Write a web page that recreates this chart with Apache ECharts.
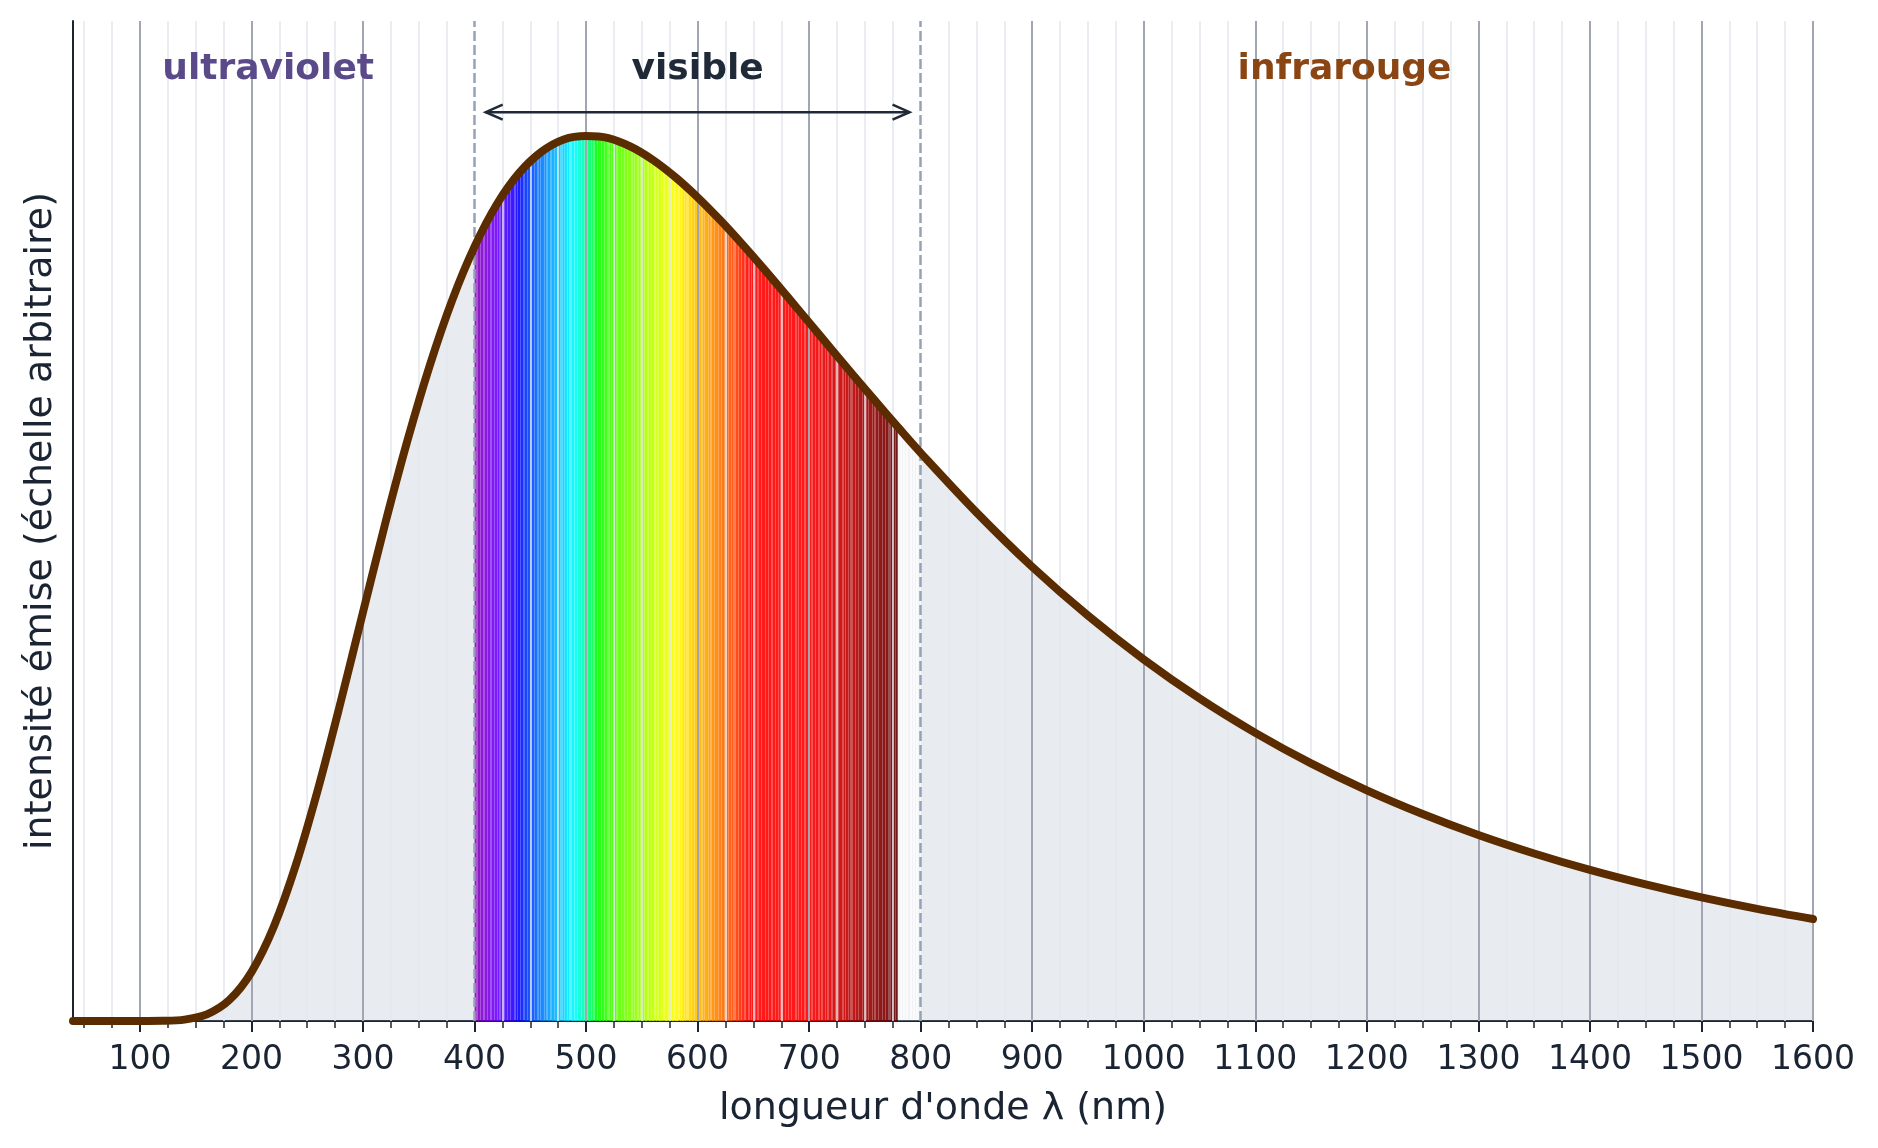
<!DOCTYPE html>
<html>
<head>
<meta charset="utf-8">
<script src="https://cdn.jsdelivr.net/npm/echarts@6/dist/echarts.min.js"></script>
<style>
  html, body { margin: 0; padding: 0; background: #ffffff; }
  #chart { width: 1878px; height: 1148px; }
</style>
</head>
<body>
<div id="chart"></div>
<script>
// ---- data (relative intensity, peak = 1) ----
const wavelengths = [40, 60, 80, 100, 120, 140, 160, 180, 200, 220, 240, 260, 280, 300, 320, 340, 360, 380,
  400, 420, 440, 460, 480, 500, 520, 540, 560, 580, 600, 620, 640, 660, 680, 700, 720, 740, 760, 780,
  800, 850, 900, 950, 1000, 1050, 1100, 1150, 1200, 1250, 1300, 1350, 1400, 1450, 1500, 1550, 1600];
const intensity = [0, 0, 0, 0.00001, 0.0002, 0.0016, 0.0075, 0.0235, 0.0553, 0.1065, 0.1771, 0.2636, 0.3606, 0.462, 0.5626, 0.6566, 0.7413, 0.8146,
  0.875, 0.9229, 0.9583, 0.9823, 0.9962, 1.0, 0.9977, 0.9881, 0.973, 0.9536, 0.9308, 0.9053, 0.8778, 0.849, 0.8193, 0.7893, 0.7591, 0.7291, 0.6995, 0.6704,
  0.642, 0.5748, 0.5132, 0.458, 0.4085, 0.3645, 0.3256, 0.2911, 0.2607, 0.2339, 0.2102, 0.1893, 0.1707, 0.1543, 0.1397, 0.1267, 0.1152];

const majorTicks = [100, 200, 300, 400, 500, 600, 700, 800, 900, 1000, 1100, 1200, 1300, 1400, 1500, 1600];
const minorTicks = [50, 75, 125, 150, 175, 225, 250, 275, 325, 350, 375, 425, 450, 475, 525, 550, 575,
  625, 650, 675, 725, 750, 775, 825, 850, 875, 925, 950, 975, 1025, 1050, 1075, 1125, 1150, 1175,
  1225, 1250, 1275, 1325, 1350, 1375, 1425, 1450, 1475, 1525, 1550, 1575];
const majorGrid = [100, 200, 300, 500, 600, 700, 900, 1000, 1100, 1200, 1300, 1400, 1500, 1600];
const regionBounds = [400, 800];
const regionLabels = ['ultraviolet', 'visible', 'infrarouge'];
const regionLabelX = [215, 600, 1180];
const regionColors = ['#5a4a8a', '#1f2937', '#8b4513'];
const arrowEnds = [410, 790];
const arrowLevel = 1.027;
const labelLevel = 1.0745;
const spectrumEnd = 780;
const X_MIN = 40, X_MAX = 1600, Y_MAX = 1.13;
const SMOOTH = 0.33;

const pts = wavelengths.map((w, i) => [w, intensity[i]]);
const uvPts = pts.filter(p => p[0] <= regionBounds[0]);
const visPts = pts.filter(p => p[0] >= regionBounds[0] && p[0] <= regionBounds[1]);
const irPts = pts.filter(p => p[0] >= regionBounds[1]);

const INK = '#1b2433';
const FONT = '"DejaVu Sans", "Noto Sans", sans-serif';

function specRGB(l) {
  let r, g, b;
  if (l < 440) { r = -(l - 440) / 60; g = 0; b = 1; }
  else if (l < 490) { r = 0; g = (l - 440) / 50; b = 1; }
  else if (l < 510) { r = 0; g = 1; b = -(l - 510) / 20; }
  else if (l < 580) { r = (l - 510) / 70; g = 1; b = 0; }
  else if (l < 645) { r = 1; g = -(l - 645) / 65; b = 0; }
  else { r = 1; g = 0; b = 0; }
  let f = l < 420 ? 0.3 + 0.7 * (l - 380) / 40 : (l > 700 ? 0.3 + 0.7 * (780 - l) / 80 : 1);
  return [r, g, b].map(c => c > 0 ? Math.round(255 * Math.pow(c * f, 0.8)) : 0);
}

function spectrumStops() {
  const stops = [];
  const span = regionBounds[1] - regionBounds[0];
  for (let l = regionBounds[0]; l < regionBounds[1]; l++) {
    let col;
    if (l < spectrumEnd) {
      const [r, g, b] = specRGB(l + 0.5);
      const light = (l % 3 === 0) || (l % 7 === 2);
      const a = light ? 0.68 : 0.9;
      col = 'rgba(' + r + ',' + g + ',' + b + ',' + a + ')';
    } else {
      col = (l % 3 === 0) ? 'rgba(215,220,228,0.35)' : 'rgba(235,238,242,0.25)';
    }
    stops.push({ offset: (l - regionBounds[0]) / span, color: col });
    stops.push({ offset: (l + 1 - regionBounds[0]) / span, color: col });
  }
  return stops;
}

const gridLineData = []
  .concat(minorTicks.map(v => ({ xAxis: v, lineStyle: { color: '#e3e8ef', width: 1.5, type: 'solid' } })))
  .concat(majorGrid.map(v => ({ xAxis: v, lineStyle: { color: '#a0a7b3', width: 2, type: 'solid' } })));

const dashedData = regionBounds.map(v => ({ xAxis: v, lineStyle: { color: '#94a3b8', width: 2.5, type: [10, 4] } }));

const fillColor = 'rgba(148,163,184,0.22)';

const option = {
  animation: false,
  backgroundColor: '#ffffff',
  grid: { left: 73, right: 65, top: 21, bottom: 127, containLabel: false, outerBoundsMode: 'none' },
  xAxis: [
    {
      type: 'value', min: X_MIN, max: X_MAX, position: 'bottom',
      axisLine: { show: true, onZero: false, lineStyle: { color: INK, width: 2 } },
      axisTick: { show: true, customValues: majorTicks, length: 11, lineStyle: { color: INK, width: 2 } },
      axisLabel: { show: true, customValues: majorTicks, margin: 23, fontSize: 33, color: INK, fontFamily: FONT,
        formatter: v => String(v) },
      splitLine: { show: false },
      name: "longueur d'onde λ (nm)", nameLocation: 'middle', nameGap: 69,
      nameTextStyle: { fontSize: 38, color: INK, fontFamily: FONT }
    },
    {
      type: 'value', min: X_MIN, max: X_MAX, position: 'bottom',
      axisLine: { show: false },
      axisTick: { show: true, customValues: minorTicks, length: 7, lineStyle: { color: INK, width: 1.5 } },
      axisLabel: { show: false },
      splitLine: { show: false }
    }
  ],
  yAxis: {
    type: 'value', min: 0, max: Y_MAX,
    axisLine: { show: true, onZero: false, lineStyle: { color: INK, width: 2 } },
    axisTick: { show: false }, axisLabel: { show: false }, splitLine: { show: false },
    name: 'intensité émise (échelle arbitraire)', nameLocation: 'middle', nameGap: 13,
    nameTextStyle: { fontSize: 38, color: INK, fontFamily: FONT }
  },
  series: [
    {
      id: 'gridlines', type: 'line', xAxisIndex: 0, yAxisIndex: 0, z: 1,
      data: [[X_MIN, 0]], symbol: 'none', lineStyle: { width: 0 }, silent: true,
      markLine: { silent: true, symbol: ['none', 'none'], label: { show: false }, animation: false, data: gridLineData }
    },
    {
      id: 'uv', type: 'line', xAxisIndex: 0, yAxisIndex: 0, z: 2, data: uvPts,
      smooth: SMOOTH, symbol: 'none', lineStyle: { width: 0 },
      areaStyle: { color: fillColor, opacity: 1 }, silent: true,
      markLine: { silent: true, symbol: ['none', 'none'], label: { show: false }, animation: false, data: dashedData }
    },
    {
      id: 'ir', type: 'line', xAxisIndex: 0, yAxisIndex: 0, z: 2, data: irPts,
      smooth: SMOOTH, symbol: 'none', lineStyle: { width: 0 },
      areaStyle: { color: fillColor, opacity: 1 }, silent: true
    },
    {
      id: 'spectrum', type: 'line', xAxisIndex: 0, yAxisIndex: 0, z: 3, data: visPts,
      smooth: SMOOTH, symbol: 'none', lineStyle: { width: 0 },
      areaStyle: { color: 'rgba(0,0,0,0)', opacity: 1 }, silent: true
    },
    {
      id: 'curve', type: 'line', xAxisIndex: 0, yAxisIndex: 0, z: 5, data: pts,
      smooth: SMOOTH, symbol: 'none',
      lineStyle: { color: '#5b2c00', width: 8, cap: 'round', join: 'round' }, silent: true
    }
  ]
};

const chart = echarts.init(document.getElementById('chart'), null, { renderer: 'canvas' });
chart.setOption(option);

const toPx = (x, y) => chart.convertToPixel({ xAxisIndex: 0, yAxisIndex: 0 }, [x, y]);
const p0 = toPx(regionBounds[0], 0);
const p1 = toPx(regionBounds[1], 0);
const gradient = new echarts.graphic.LinearGradient(p0[0], 0, p1[0], 0, spectrumStops(), true);

const aL = toPx(arrowEnds[0], arrowLevel);
const aR = toPx(arrowEnds[1], arrowLevel);
const head = 17, half = 7.5;
const graphics = [
  { type: 'line', z: 10, shape: { x1: aL[0], y1: aL[1], x2: aR[0], y2: aR[1] }, style: { stroke: '#1f2937', lineWidth: 2.5 } },
  { type: 'polyline', z: 10, shape: { points: [[aL[0] + head, aL[1] - half], [aL[0], aL[1]], [aL[0] + head, aL[1] + half]] }, style: { stroke: '#1f2937', lineWidth: 2.5, fill: null, lineJoin: 'miter' } },
  { type: 'polyline', z: 10, shape: { points: [[aR[0] - head, aR[1] - half], [aR[0], aR[1]], [aR[0] - head, aR[1] + half]] }, style: { stroke: '#1f2937', lineWidth: 2.5, fill: null, lineJoin: 'miter' } }
];
regionLabels.forEach((t, i) => {
  const p = toPx(regionLabelX[i], labelLevel);
  graphics.push({
    type: 'text', z: 10, x: p[0], y: p[1],
    style: { text: t, fill: regionColors[i], font: 'bold 36px ' + FONT,
      align: 'center', verticalAlign: 'middle', textAlign: 'center', textVerticalAlign: 'middle' }
  });
});

chart.setOption({
  series: [{ id: 'spectrum', areaStyle: { color: gradient, opacity: 1 } }],
  graphic: graphics
});
</script>
</body>
</html>
